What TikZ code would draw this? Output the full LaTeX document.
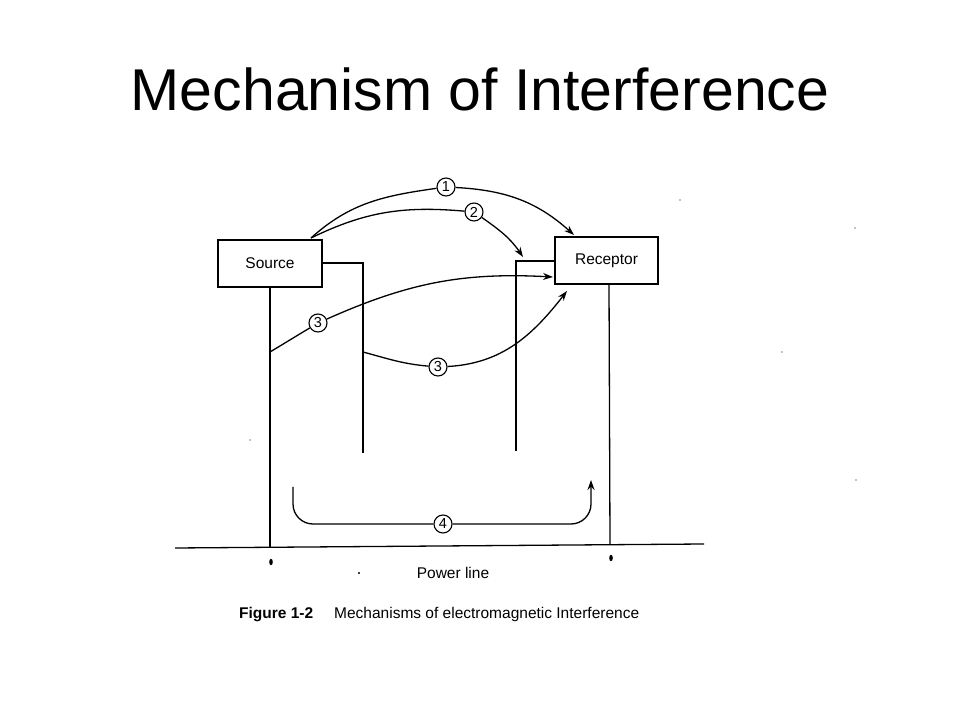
\documentclass[tikz,border=0pt]{standalone}
\usepackage{fontspec}
\setmainfont{Liberation Sans}
\usetikzlibrary{arrows.meta}
\begin{document}
\begin{tikzpicture}[x=1pt,y=1pt,
  wire/.style={line width=1.3pt},
  boxnode/.style={draw,line width=1.3pt,minimum width=104pt,minimum height=47pt,inner sep=0pt,font=\fontsize{15.5}{17}\selectfont},
  numc/.style={draw,circle,line width=1.1pt,minimum size=18pt,inner sep=0pt,font=\fontsize{14.5}{15}\selectfont},
  arr/.style={line width=1.3pt,-{Stealth[length=10pt,width=7pt]}},
  plain/.style={line width=1.3pt}]
\useasboundingbox (0,0) rectangle (960,720);
\fill[white] (0,0) rectangle (960,720);
% title
\node[anchor=base,inner sep=0pt,font=\fontsize{59}{61}\selectfont] (title) at (480,609) {Mechanism of Interference};
% boxes
\node[boxnode] (src) at (270,456.5) {Source};
\node[boxnode,minimum width=103pt] (rec) at (606.5,459.5) {Receptor};
% coordinates for wires
\coordinate (pl1) at (175,172);
\coordinate (pl2) at (704,176);
\coordinate (srcleg) at (270,172.5);
\coordinate (srcA) at (322,457);
\coordinate (srcB) at (363,457);
\coordinate (srcC) at (363,267);
\coordinate (recA) at (555,459);
\coordinate (recB) at (516,459);
\coordinate (recC) at (516,269);
\coordinate (recleg) at (610,175.8);
\draw[wire] (pl1) -- (pl2);
\draw[wire] (src.south) -- (srcleg);
\draw[wire] (srcA) -- (srcB) -- (srcC);
\draw[wire] (recA) -- (recB) -- (recC);
\draw[wire] ([xshift=2.5pt]rec.south) -- (recleg);
% markers
\fill (271,158) ellipse (1.8pt and 3.2pt);
\fill (611,162) ellipse (1.8pt and 3.2pt);
\fill (359,147) circle (1.1pt);
\fill (250,280) circle (0.7pt);
\fill (680,520) circle (0.7pt);
\fill (855,492) circle (0.7pt);
\fill (782,368) circle (0.7pt);
\fill (856,240) circle (0.7pt);
% labels
\node[anchor=base,inner sep=0pt,font=\fontsize{15.5}{17}\selectfont] (pltext) at (453,142) {Power line};
\node[anchor=base west,inner sep=0pt,font=\fontsize{15.5}{17}\selectfont\bfseries] (figlab) at (239,102) {Figure 1-2};
\node[anchor=base west,inner sep=0pt,font=\fontsize{15.5}{17}\selectfont] (figcap) at (334,102) {Mechanisms of electromagnetic Interference};
% numbered circles
\node[numc] (c1) at (446,533) {1};
\node[numc] (c2) at (474,508) {2};
\node[numc] (c3a) at (318,397) {3};
\node[numc] (c3b) at (438,353) {3};
\node[numc] (c4) at (443,196) {4};
% start / end points
\coordinate (s12) at (311,482);
\coordinate (e1) at (574,485);
\coordinate (e2) at (523,463);
\coordinate (s3a) at (270,368);
\coordinate (e3a) at (553,443);
\coordinate (s3b) at (363,368);
\coordinate (e3b) at (567,429);
\coordinate (s4) at (293,233);
\coordinate (e4) at (591,240);
% path 1
\draw[plain] (s12) to[out=42,in=188] (c1);
\draw[arr] (c1) to[out=-3,in=138] (e1);
% path 2
\draw[plain] (s12) to[out=26,in=175] (c2);
\draw[arr] (c2) to[out=-35,in=124] (e2);
% path 3a
\draw[plain] (s3a) to[out=31,in=211] (c3a);
\draw[arr] (c3a) to[out=24,in=177] (e3a);
% path 3b
\draw[plain] (s3b) to[out=-15,in=175] (c3b);
\draw[arr] (c3b) to[out=3,in=232] (e3b);
% path 4
\draw[plain,rounded corners=20pt] (s4) |- (c4.west);
\draw[arr,rounded corners=20pt] (c4.east) -| (e4);
\end{tikzpicture}
\end{document}
